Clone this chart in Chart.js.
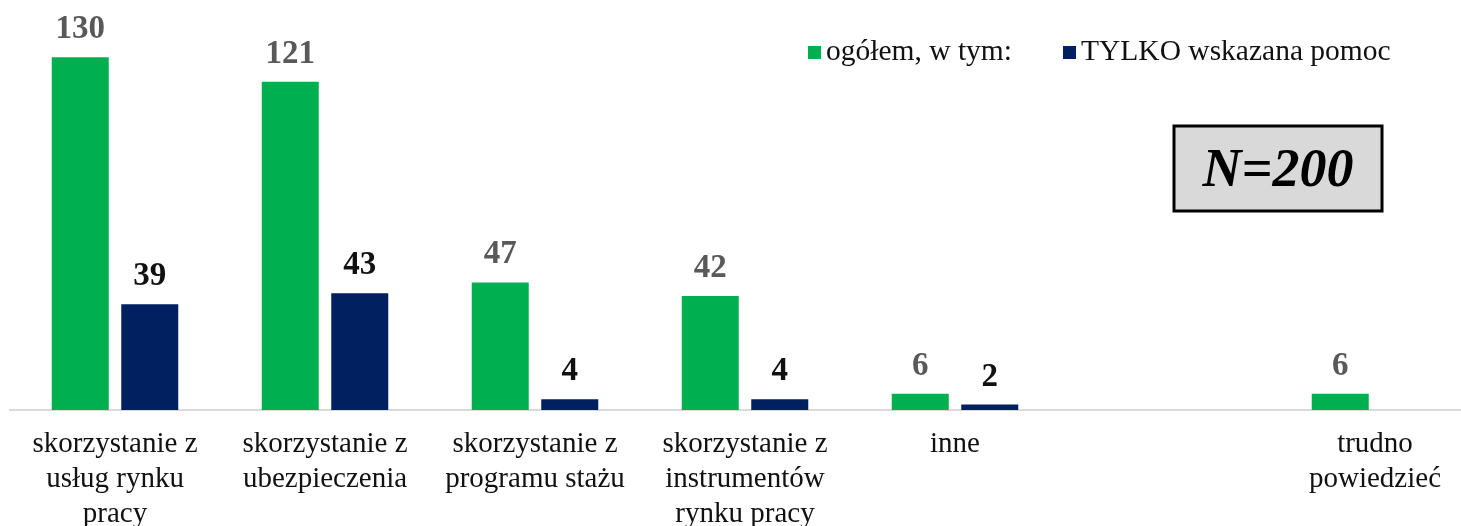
<!DOCTYPE html>
<html>
<head>
<meta charset="utf-8">
<script src="https://cdn.jsdelivr.net/npm/chart.js@4/dist/chart.umd.min.js"></script>
<style>
  html, body { margin: 0; padding: 0; background: #fff; overflow: hidden; }
  #wrap { position: relative; width: 1480px; height: 526px; }
</style>
</head>
<body>
<div id="wrap"><canvas id="bar-chart"></canvas></div>
<script>
// categories (multi-line labels), one empty slot before "trudno powiedzieć"
var categories = [
  ["skorzystanie z", "usług rynku", "pracy"],
  ["skorzystanie z", "ubezpieczenia"],
  ["skorzystanie z", "programu stażu"],
  ["skorzystanie z", "instrumentów", "rynku pracy"],
  "inne",
  "",
  ["trudno", "powiedzieć"]
];
var seriesNames = ["ogółem, w tym:", "TYLKO wskazana pomoc"];
var ogolem = [130, 121, 47, 42, 6, null, 6];
var tylko = [39, 43, 4, 4, 2, null, null];
var sampleNote = "N=200";

var barColors = ["#00B050", "#002060"];
var valueColors = ["#595959", "#111111"];
var serif = '"Liberation Serif", "Times New Roman", serif';

var valueLabels = {
  id: "valueLabels",
  afterDatasetsDraw: function (chart) {
    var ctx = chart.ctx;
    chart.data.datasets.forEach(function (ds, i) {
      var meta = chart.getDatasetMeta(i);
      meta.data.forEach(function (bar, j) {
        var v = ds.data[j];
        if (v == null) return;
        ctx.save();
        ctx.font = "bold 33px " + serif;
        ctx.fillStyle = valueColors[i];
        ctx.textAlign = "center";
        ctx.textBaseline = "alphabetic";
        ctx.fillText(String(v), bar.x, bar.y - 19);
        ctx.restore();
      });
    });
  }
};

// legend in the top right + N box, drawn over the plot
var overlay = {
  id: "overlay",
  afterDraw: function (chart) {
    var ctx = chart.ctx;
    ctx.save();
    ctx.font = "29.5px " + serif;
    ctx.textBaseline = "middle";
    ctx.textAlign = "left";
    var items = [{ x: 808 }, { x: 1063 }];
    chart.data.datasets.forEach(function (ds, i) {
      var x = items[i].x;
      ctx.fillStyle = ds.backgroundColor;
      ctx.fillRect(x, 46, 13, 13);
      ctx.fillStyle = "#111";
      ctx.fillText(ds.label, x + 18, 52);
    });

    // N box
    ctx.fillStyle = "#d9d9d9";
    ctx.fillRect(1174, 126, 208, 85);
    ctx.lineWidth = 3;
    ctx.strokeStyle = "#000";
    ctx.strokeRect(1174, 126, 208, 85);
    ctx.fillStyle = "#000";
    ctx.font = "italic bold 54px " + serif;
    ctx.textAlign = "center";
    ctx.textBaseline = "alphabetic";
    ctx.fillText(sampleNote, 1278, 186);
    ctx.restore();
  }
};

new Chart(document.getElementById("bar-chart"), {
  type: "bar",
  data: {
    labels: categories,
    datasets: [
      {
        label: seriesNames[0],
        backgroundColor: barColors[0],
        data: ogolem,
      },
      {
        label: seriesNames[1],
        backgroundColor: barColors[1],
        data: tylko,
      },
    ],
  },
  options: {
    responsive: true,
    maintainAspectRatio: false,
    animation: false,
    datasets: {
      bar: { categoryPercentage: 0.662, barPercentage: 0.82 }
    },
    layout: { padding: { top: 3, left: 10, right: 0, bottom: 0 } },
    plugins: {
      legend: { display: false },
      title: { display: false },
      tooltip: { enabled: false },
    },
    scales: {
      x: {
        grid: { display: false, drawTicks: false },
        border: { display: true, color: "#d9d9d9", width: 2 },
        ticks: {
          color: "#111",
          padding: 17,
          maxRotation: 0,
          autoSkip: false,
          font: { family: serif, size: 29, lineHeight: 1.21 },
        },
        afterFit: function (scale) { scale.height = 116; },
      },
      y: {
        display: false,
        min: 0,
        max: 150,
      },
    },
  },
  plugins: [valueLabels, overlay],
});
</script>
</body>
</html>
